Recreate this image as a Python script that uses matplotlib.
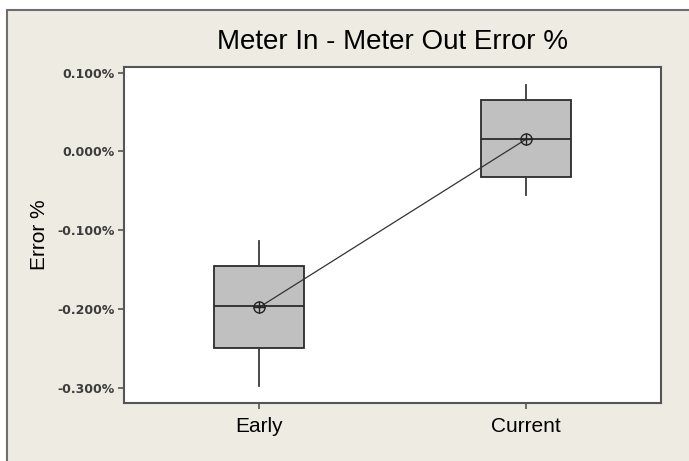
import matplotlib
matplotlib.use("Agg")
import matplotlib.pyplot as plt
from matplotlib.patches import Rectangle
from matplotlib.ticker import FuncFormatter

# Box plot summary values, in percent units
groups = ["Early", "Current"]
whis_lo = [-0.298, -0.055]
q1 = [-0.250, -0.033]
median = [-0.196, 0.016]
q3 = [-0.145, 0.065]
whis_hi = [-0.114, 0.084]
means = [-0.198, 0.0155]
y_ticks = [-0.3, -0.2, -0.1, 0.0, 0.1]

BG = "#eeebe2"
SPINE = "#555555"

fig = plt.figure(figsize=(6.89, 4.61), dpi=100, facecolor="white")

# beige panel with grey border on top/left (right/bottom run off the image)
panel = Rectangle((7 / 689, -0.05), 1.1, 1.05 - 10 / 461, transform=fig.transFigure,
                  facecolor=BG, edgecolor="#6e6e6e", linewidth=1.5, zorder=-1)
fig.patches.append(panel)

ax = fig.add_axes([124 / 689, 58 / 461, 537 / 689, 336 / 461])
ax.set_facecolor("white")

pos = list(range(1, len(groups) + 1))
stats = []
for i, g in enumerate(groups):
    stats.append(dict(label=g, whislo=whis_lo[i], q1=q1[i], med=median[i],
                      q3=q3[i], whishi=whis_hi[i], mean=means[i], fliers=[]))

ax.bxp(stats, positions=pos, widths=0.336, patch_artist=True,
       showcaps=False, showmeans=False, showfliers=False,
       boxprops=dict(facecolor="#c0c0c0", edgecolor="#2b2b2b", linewidth=1.3),
       medianprops=dict(color="#2b2b2b", linewidth=1.3),
       whiskerprops=dict(color="#3a3a3a", linewidth=1.3))

# mean connect line with circle-plus markers
ax.plot(pos, means, color="#333333", linewidth=0.9, zorder=4)
ax.plot(pos, means, linestyle="none", marker="o", markersize=8,
        markerfacecolor="none", markeredgecolor="#222222", markeredgewidth=1.0, zorder=5)
ax.plot(pos, means, linestyle="none", marker="+", markersize=8,
        markeredgecolor="#222222", markeredgewidth=1.0, zorder=5)

ax.set_xlim(0.494, 2.506)
ax.set_ylim(-0.3194, 0.1073)
ax.set_yticks(y_ticks)
ax.yaxis.set_major_formatter(FuncFormatter(lambda v, p: f"{v:.3f}%"))
ax.set_xticks(pos)
ax.set_xticklabels(groups, fontsize=15, fontfamily="Liberation Sans")

for lab in ax.get_yticklabels():
    lab.set_fontfamily("DejaVu Sans")
    lab.set_fontweight("bold")
    lab.set_fontsize(9)
    lab.set_color("#3c3c3c")

ax.tick_params(axis="y", direction="out", length=4, width=1.2, color=SPINE, pad=3)
ax.tick_params(axis="x", direction="out", length=4, width=1.2, color=SPINE, pad=6)

for s in ax.spines.values():
    s.set_color(SPINE)
    s.set_linewidth(1.5)

ax.set_ylabel("Error %", fontsize=15, fontfamily="Liberation Sans", labelpad=6)
ax.set_title("Meter In - Meter Out Error %", fontsize=20,
             fontfamily="Liberation Sans", pad=13)

fig.savefig("out.png", dpi=100, facecolor=fig.get_facecolor())
